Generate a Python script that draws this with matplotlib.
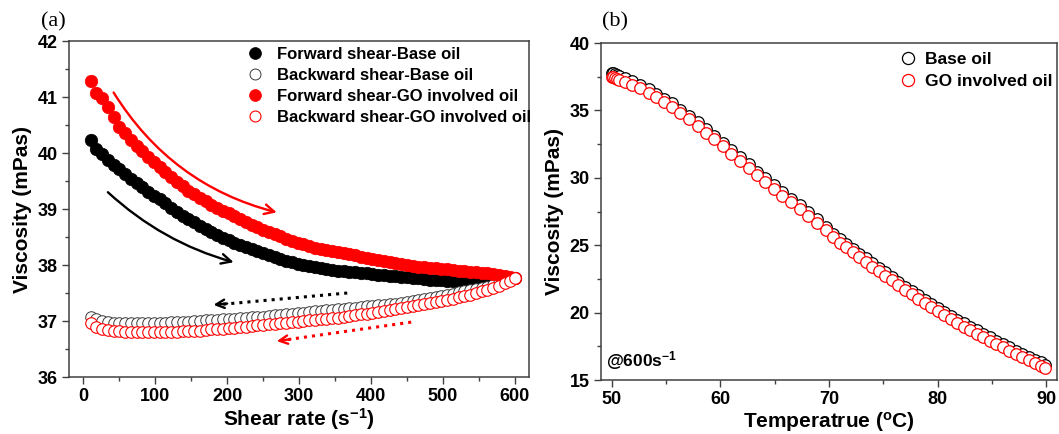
import matplotlib
matplotlib.use('Agg')
import matplotlib.pyplot as plt
from matplotlib.ticker import MultipleLocator
from matplotlib.font_manager import FontProperties

plt.rcParams['font.family'] = 'Liberation Sans'
plt.rcParams['font.weight'] = 'bold'
plt.rcParams['mathtext.fontset'] = 'custom'
plt.rcParams['mathtext.rm'] = 'Liberation Sans:bold'
plt.rcParams['mathtext.it'] = 'Liberation Sans:bold'
plt.rcParams['mathtext.bf'] = 'Liberation Sans:bold'

# (a) shear sweep
shear_rate = [10, 18, 26, 34, 42, 50, 58, 66, 74, 82, 90, 98, 106, 114, 122, 130, 138, 146, 154, 162,
              170, 178, 186, 194, 202, 210, 218, 226, 234, 242, 250, 258, 266, 274, 282, 290, 298, 306,
              314, 322, 330, 338, 346, 354, 362, 370, 378, 386, 394, 402, 410, 418, 426, 434, 442, 450,
              458, 466, 474, 482, 490, 498, 506, 514, 522, 530, 538, 546, 554, 562, 570, 578, 586, 594, 600]
fwd_base = [40.23, 40.08, 39.98, 39.88, 39.79, 39.71, 39.62, 39.54, 39.46, 39.39, 39.31, 39.24, 39.17,
            39.10, 39.02, 38.95, 38.88, 38.82, 38.76, 38.70, 38.64, 38.59, 38.54, 38.49, 38.44, 38.40,
            38.36, 38.32, 38.29, 38.25, 38.22, 38.18, 38.15, 38.11, 38.08, 38.05, 38.02, 38.00, 37.98,
            37.96, 37.94, 37.92, 37.91, 37.90, 37.89, 37.88, 37.87, 37.86, 37.85, 37.84, 37.83, 37.82,
            37.81, 37.80, 37.79, 37.78, 37.77, 37.76, 37.75, 37.74, 37.73, 37.73, 37.72, 37.72, 37.71,
            37.71, 37.71, 37.70, 37.70, 37.71, 37.71, 37.72, 37.73, 37.75, 37.76]
bwd_base = [37.08, 37.03, 37.00, 36.98, 36.97, 36.97, 36.96, 36.96, 36.96, 36.96, 36.96, 36.97, 36.97,
            36.97, 36.98, 36.98, 36.99, 36.99, 37.00, 37.00, 37.01, 37.02, 37.02, 37.03, 37.04, 37.04,
            37.05, 37.06, 37.07, 37.07, 37.08, 37.09, 37.10, 37.11, 37.12, 37.13, 37.14, 37.15, 37.16,
            37.17, 37.18, 37.19, 37.20, 37.21, 37.22, 37.23, 37.24, 37.25, 37.26, 37.27, 37.28, 37.29,
            37.30, 37.31, 37.33, 37.34, 37.36, 37.37, 37.39, 37.41, 37.43, 37.45, 37.47, 37.49, 37.51,
            37.53, 37.55, 37.57, 37.59, 37.61, 37.64, 37.67, 37.70, 37.73, 37.76]
fwd_go = [41.28, 41.08, 40.98, 40.82, 40.64, 40.47, 40.35, 40.24, 40.13, 40.03, 39.93, 39.84, 39.75,
          39.66, 39.57, 39.49, 39.41, 39.33, 39.26, 39.20, 39.14, 39.08, 39.02, 38.97, 38.92, 38.87,
          38.82, 38.77, 38.72, 38.67, 38.63, 38.59, 38.55, 38.51, 38.47, 38.43, 38.40, 38.37, 38.34,
          38.31, 38.29, 38.27, 38.25, 38.23, 38.21, 38.19, 38.17, 38.15, 38.13, 38.11, 38.09, 38.07,
          38.05, 38.04, 38.02, 38.00, 37.99, 37.97, 37.96, 37.95, 37.94, 37.93, 37.92, 37.91, 37.90,
          37.89, 37.88, 37.87, 37.86, 37.85, 37.84, 37.83, 37.81, 37.79, 37.77]
bwd_go = [36.97, 36.90, 36.86, 36.84, 36.83, 36.82, 36.81, 36.81, 36.80, 36.80, 36.80, 36.80, 36.80,
          36.80, 36.81, 36.81, 36.82, 36.82, 36.83, 36.83, 36.84, 36.85, 36.86, 36.86, 36.87, 36.88,
          36.89, 36.90, 36.91, 36.92, 36.93, 36.94, 36.95, 36.96, 36.97, 36.98, 36.99, 37.00, 37.01,
          37.02, 37.03, 37.04, 37.05, 37.06, 37.08, 37.09, 37.10, 37.12, 37.13, 37.15, 37.16, 37.18,
          37.19, 37.21, 37.23, 37.25, 37.26, 37.28, 37.30, 37.32, 37.34, 37.36, 37.38, 37.40, 37.42,
          37.45, 37.47, 37.50, 37.53, 37.56, 37.59, 37.63, 37.67, 37.72, 37.76]

# (b) temperature sweep at 600 s-1
temperature = [50.0, 50.1, 50.25, 50.45, 50.7, 51.2, 51.9, 52.6, 53.4, 54.1, 54.8, 55.5, 56.3, 57.1,
               57.9, 58.7, 59.4, 60.2, 61.0, 61.8, 62.6, 63.4, 64.1, 64.9, 65.7, 66.5, 67.3, 68.1,
               68.9, 69.7, 70.4, 71.0, 71.6, 72.2, 72.8, 73.4, 74.0, 74.6, 75.2, 75.8, 76.4, 77.0,
               77.6, 78.2, 78.8, 79.4, 80.0, 80.6, 81.2, 81.8, 82.4, 83.0, 83.6, 84.2, 84.8, 85.4,
               86.0, 86.6, 87.2, 87.8, 88.4, 89.0, 89.5, 89.9]
visc_base = [37.78, 37.74, 37.68, 37.60, 37.52, 37.38, 37.17, 36.90, 36.57, 36.23, 35.85, 35.52, 35.05,
             34.58, 34.13, 33.60, 33.13, 32.60, 32.05, 31.52, 31.00, 30.46, 29.97, 29.45, 28.92, 28.45,
             27.97, 27.45, 26.93, 26.37, 25.85, 25.45, 25.10, 24.73, 24.37, 24.02, 23.67, 23.32, 23.00,
             22.65, 22.30, 21.93, 21.60, 21.28, 20.97, 20.67, 20.37, 20.07, 19.77, 19.47, 19.20, 18.95,
             18.68, 18.42, 18.17, 17.91, 17.67, 17.43, 17.17, 16.93, 16.71, 16.50, 16.30, 16.12]
visc_go = [37.50, 37.46, 37.40, 37.33, 37.26, 37.13, 36.92, 36.65, 36.32, 35.98, 35.60, 35.27, 34.80,
           34.33, 33.88, 33.35, 32.88, 32.35, 31.80, 31.27, 30.75, 30.21, 29.72, 29.20, 28.67, 28.20,
           27.72, 27.20, 26.68, 26.12, 25.60, 25.20, 24.85, 24.48, 24.12, 23.77, 23.42, 23.07, 22.75,
           22.40, 22.05, 21.68, 21.35, 21.03, 20.72, 20.42, 20.12, 19.82, 19.52, 19.22, 18.95, 18.70,
           18.43, 18.17, 17.92, 17.66, 17.42, 17.18, 16.92, 16.68, 16.46, 16.25, 16.05, 15.87]

spine_col = '#404040'


def style_axes(ax):
    for s in ax.spines.values():
        s.set_color(spine_col)
        s.set_linewidth(1.1)
    ax.tick_params(which='both', direction='out', top=False, right=False,
                   color=spine_col, width=1.0, labelsize=13, pad=3)
    ax.tick_params(which='major', length=5)
    ax.tick_params(which='minor', length=3)
    for lab in ax.get_xticklabels() + ax.get_yticklabels():
        lab.set_fontweight('bold')


fig = plt.figure(figsize=(10.59, 4.34), dpi=100)
ax1 = fig.add_axes([0.0652, 0.1313, 0.4344, 0.7742])
ax2 = fig.add_axes([0.5675, 0.1244, 0.4306, 0.7765])

# ---- panel (a)
ax1.plot(shear_rate, fwd_base, 'o', color='k', ms=9.0, mec='k', mew=0.5, label='Forward shear-Base oil')
ax1.plot(shear_rate, bwd_base, 'o', mfc='white', mec='#3a3a3a', ms=8.3, mew=0.7, label='Backward shear-Base oil')
ax1.plot(shear_rate, fwd_go, 'o', color='#ff0000', ms=9.0, mec='#ff0000', mew=0.5, label='Forward shear-GO involved oil')
ax1.plot(shear_rate, bwd_go, 'o', mfc='white', mec='#ff0000', ms=8.3, mew=0.8, label='Backward shear-GO involved oil')

ax1.set_xlim(-20, 620)
ax1.set_ylim(36, 42)
ax1.xaxis.set_major_locator(MultipleLocator(100))
ax1.xaxis.set_minor_locator(MultipleLocator(50))
ax1.yaxis.set_major_locator(MultipleLocator(1))
ax1.yaxis.set_minor_locator(MultipleLocator(0.5))
style_axes(ax1)
ax1.set_xlabel('Shear rate (s$^{-1}$)', fontsize=15, fontweight='bold', labelpad=1)
ax1.set_ylabel('Viscosity (mPas)', fontsize=15, fontweight='bold', labelpad=4)

# solid arrows (forward)
ax1.annotate('', xy=(269, 38.94), xytext=(42, 41.08),
             arrowprops=dict(arrowstyle='->,head_length=0.7,head_width=0.35', color='#ff0000', lw=1.7,
                             connectionstyle='arc3,rad=0.2', shrinkA=0, shrinkB=0))
ax1.annotate('', xy=(209, 38.05), xytext=(34, 39.30),
             arrowprops=dict(arrowstyle='->,head_length=0.7,head_width=0.35', color='k', lw=1.7,
                             connectionstyle='arc3,rad=0.12', shrinkA=0, shrinkB=0))
# dotted arrows (backward)
ax1.plot([367, 186], [37.50, 37.29], ':', color='k', lw=2.2)
ax1.annotate('', xy=(181, 37.29), xytext=(200, 37.312),
             arrowprops=dict(arrowstyle='->,head_length=0.6,head_width=0.3', color='k', lw=1.7,
                             shrinkA=0, shrinkB=0))
ax1.plot([456, 274], [36.98, 36.65], ':', color='#ff0000', lw=2.2)
ax1.annotate('', xy=(269, 36.64), xytext=(288, 36.675),
             arrowprops=dict(arrowstyle='->,head_length=0.6,head_width=0.3', color='#ff0000', lw=1.7,
                             shrinkA=0, shrinkB=0))

ax1.legend(loc='upper left', bbox_to_anchor=(0.386, 0.983), frameon=False,
           prop=FontProperties(family='Liberation Sans', weight='bold', size=12),
           handlelength=1.0, handletextpad=0.85, labelspacing=0.36,
           borderaxespad=0, borderpad=0, markerscale=0.95)

fig.text(53 / 1059, 1 - 22 / 434, '(a)', fontsize=16, family='Liberation Serif',
         fontweight='normal', ha='center', va='center')

# ---- panel (b)
ax2.plot(temperature, visc_base, 'o', mfc='white', mec='k', ms=8.3, mew=0.9, label='Base oil')
ax2.plot(temperature, visc_go, 'o', mfc='white', mec='#ff0000', ms=8.3, mew=0.9, label='GO involved oil')
ax2.set_xlim(49, 91)
ax2.set_ylim(15, 40)
ax2.xaxis.set_major_locator(MultipleLocator(10))
ax2.xaxis.set_minor_locator(MultipleLocator(5))
ax2.yaxis.set_major_locator(MultipleLocator(5))
ax2.yaxis.set_minor_locator(MultipleLocator(2.5))
style_axes(ax2)
ax2.set_xlabel('Temperatrue ($^{o}$C)', fontsize=15, fontweight='bold', labelpad=1)
ax2.set_ylabel('Viscosity (mPas)', fontsize=15, fontweight='bold', labelpad=4)
ax2.text(0.012, 0.025, '@600s$^{-1}$', transform=ax2.transAxes, fontsize=12.5,
         fontweight='bold', ha='left', va='bottom')
ax2.legend(loc='upper left', bbox_to_anchor=(0.655, 0.975), frameon=False,
           prop=FontProperties(family='Liberation Sans', weight='bold', size=12.5),
           handlelength=1.0, handletextpad=0.45, labelspacing=0.4,
           borderaxespad=0, borderpad=0, markerscale=1.05)

fig.text(615 / 1059, 1 - 22 / 434, '(b)', fontsize=16, family='Liberation Serif',
         fontweight='normal', ha='center', va='center')

fig.savefig('out.png', dpi=100)
